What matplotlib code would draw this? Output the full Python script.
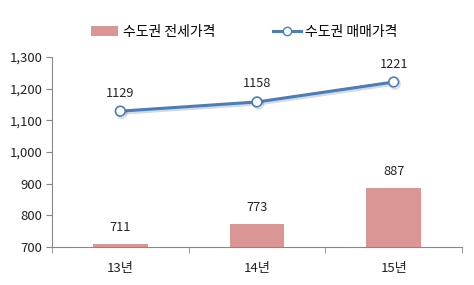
import matplotlib
matplotlib.use("Agg")
import matplotlib.pyplot as plt
import matplotlib.patheffects as pe
from matplotlib.lines import Line2D
from matplotlib.patches import Patch

categories = ["13년", "14년", "15년"]
jeonse = [711, 773, 887]
maemae = [1129, 1158, 1221]
yticks = [700, 800, 900, 1000, 1100, 1200, 1300]

plt.rcParams['font.family'] = ['Noto Sans CJK KR', 'DejaVu Sans']

fig = plt.figure(figsize=(4.74, 2.85), dpi=100)
ax = fig.add_axes([52/474, 1-247/285, 410/474, 190/285])

x = list(range(len(categories)))
bar_color = "#D99694"
line_color = "#4A7EBB"

ax.bar(x, [v - 700 for v in jeonse], bottom=700, width=0.4, color=bar_color, zorder=2)
ax.plot(x, maemae, color=line_color, lw=2.2, marker='o', ms=7, mfc='white',
        mec=line_color, mew=1.2, zorder=3,
        path_effects=[pe.SimpleLineShadow(offset=(1, -1.5), alpha=0.15, shadow_color='black'), pe.Normal()])

for xi, v in zip(x, jeonse):
    ax.annotate(str(v), (xi, v), xytext=(0, 16), textcoords='offset pixels',
                ha='center', va='center', fontsize=9.2, color='#222222')
for xi, v in zip(x, maemae):
    ax.annotate(str(v), (xi, v), xytext=(0, 18), textcoords='offset pixels',
                ha='center', va='center', fontsize=9.2, color='#222222')

ax.set_xlim(-0.5, 2.5)
ax.set_ylim(700, 1300)
ax.set_yticks(yticks)
ax.set_yticklabels([f"{t:,}" for t in yticks], fontsize=9.5, color='#222222')
ax.set_xticks(x)
ax.set_xticklabels(categories, fontsize=9.5, color='#222222')
ax.set_xticks([-0.5, 0.5, 1.5, 2.5], minor=True)
ax.tick_params(axis='x', which='major', length=0, pad=11)
ax.tick_params(axis='x', which='minor', length=4, color='#888888', direction='out')
ax.tick_params(axis='y', length=4, color='#888888', direction='out', pad=3)
for s in ['top', 'right']:
    ax.spines[s].set_visible(False)
for s in ['left', 'bottom']:
    ax.spines[s].set_color('#888888')
    ax.spines[s].set_linewidth(0.8)

handles = [Patch(facecolor=bar_color, edgecolor='none'),
           Line2D([0], [0], color=line_color, lw=2.2, marker='o', ms=6, mfc='white', mec=line_color)]
fig.legend(handles, ["수도권 전세가격", "수도권 매매가격"], loc='center', bbox_to_anchor=(0.515, 1-32/285),
           ncol=2, frameon=False, fontsize=10, handlelength=2.0, handletextpad=0.3, columnspacing=4.2)

fig.savefig("out.png", dpi=100)
